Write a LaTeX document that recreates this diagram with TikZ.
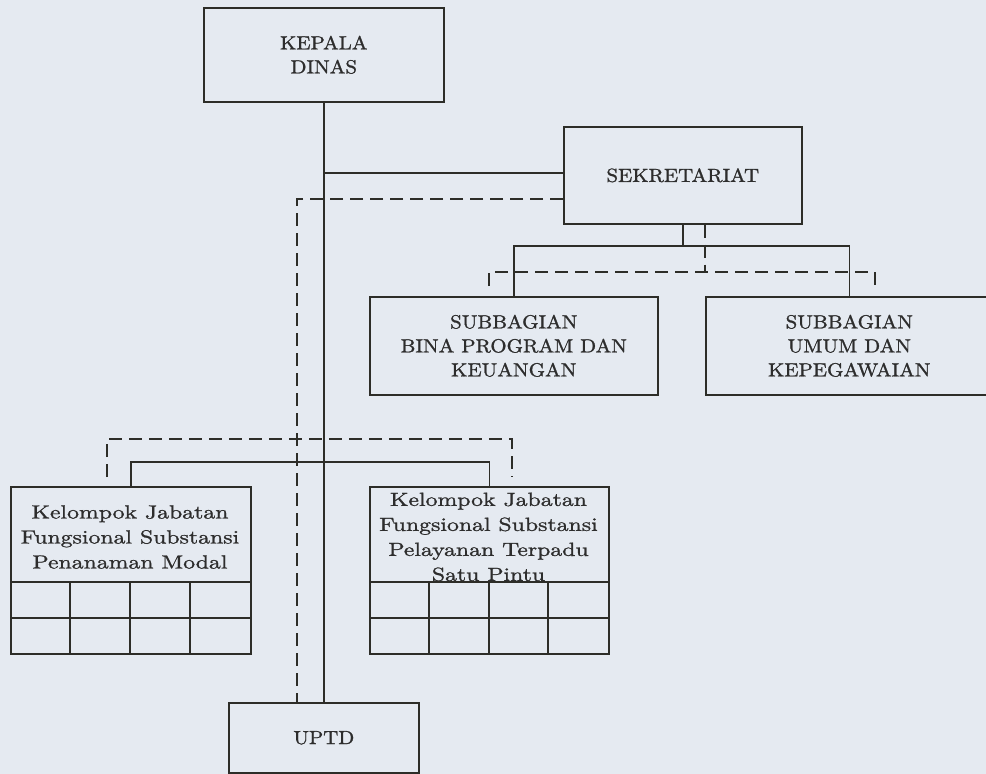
\documentclass[tikz,border=0pt]{standalone}
\usepackage{fontspec}
\newfontfamily\upf{lmroman10-regular.otf}[FakeStretch=1.1, FakeBold=1.2]
\newfontfamily\lowf{lmroman10-regular.otf}[FakeStretch=1.25, FakeBold=1.2]
\definecolor{bgc}{RGB}{229,234,241}
\definecolor{linec}{RGB}{45,45,40}
\definecolor{textc}{RGB}{45,45,45}
\tikzset{
  boxc/.style={draw=linec, line width=1.6pt, anchor=north west, inner sep=0pt,
    align=center, text=textc, font=\upf\fontsize{19}{24}\selectfont},
  lowtext/.style={inner sep=0pt, align=center, text=textc, font=\lowf\fontsize{19}{25}\selectfont},
  conn/.style={draw=linec, line width=1.6pt},
  dconn/.style={draw=linec, line width=1.6pt, dash pattern=on 13pt off 7pt},
}
\begin{document}
\begin{tikzpicture}[x=1pt, y=-1pt]
\useasboundingbox (0,0) rectangle (986,774);
\fill[bgc] (0,0) rectangle (986,774);
\clip (0,0) rectangle (986,774);

% boxes
\node[boxc, minimum width=240pt, minimum height=94pt] (kepala) at (203,7) {KEPALA\\DINAS};
\node[boxc, minimum width=238pt, minimum height=97pt] (sekr) at (563,126) {SEKRETARIAT};
\node[boxc, minimum width=288pt, minimum height=98pt] (sub1) at (369,296) {SUBBAGIAN\\BINA PROGRAM DAN\\KEUANGAN};
\node[boxc, minimum width=287pt, minimum height=98pt] (sub2) at (705,296) {SUBBAGIAN\\UMUM DAN\\KEPEGAWAIAN};
\node[boxc, minimum width=240pt, minimum height=167pt] (kjf1) at (10,486) {};
\node[boxc, minimum width=239pt, minimum height=167pt] (kjf2) at (369,486) {};
\node[boxc, minimum width=190pt, minimum height=70pt] (uptd) at (228,702) {UPTD};

\node[lowtext] (kjf1t) at (130,537) {Kelompok Jabatan\\Fungsional Substansi\\Penanaman Modal};
\node[lowtext] (kjf2t) at (488.5,537) {Kelompok Jabatan\\Fungsional Substansi\\Pelayanan Terpadu\\Satu Pintu};

% grids
\draw[conn] (10,582) -- (250,582) (10,618) -- (250,618)
  (70,582) -- (70,653) (130,582) -- (130,653) (190,582) -- (190,653);
\draw[conn] (369,582) -- (608,582) (369,618) -- (608,618)
  (429,582) -- (429,653) (489,582) -- (489,653) (548,582) -- (548,653);

% coordinates
\coordinate (j1) at (323,173);
\coordinate (d1) at (297,199);
\coordinate (s1) at (682,246);
\coordinate (d2) at (705,272);
\coordinate (d3l) at (489,286);
\coordinate (d3r) at (875,286);
\coordinate (l1) at (107,477);
\coordinate (l2) at (512,477);

% solid connectors
\draw[conn] (kepala.south) -- (kepala.south |- uptd.north);
\draw[conn] (j1 -| kepala.south) -- (j1 -| sekr.west);
\draw[conn] (sekr.south) -- (sekr.south |- s1);
\draw[conn] (sub1.north) |- (s1) -| (sub2.north);
\draw[conn] (kjf1.north) -- ++(0,-24) -| (kjf2.north);

% dashed connectors
\draw[dconn] (d1 -| sekr.west) -- (d1) -- (d1 |- uptd.north);
\draw[dconn] (sekr.south -| d2) -- (d2);
\draw[dconn] (d3l) |- (d2) -| (d3r);
\draw[dconn] (l1) -- (107,439) -- (512,439) -- (l2);
\end{tikzpicture}
\end{document}
